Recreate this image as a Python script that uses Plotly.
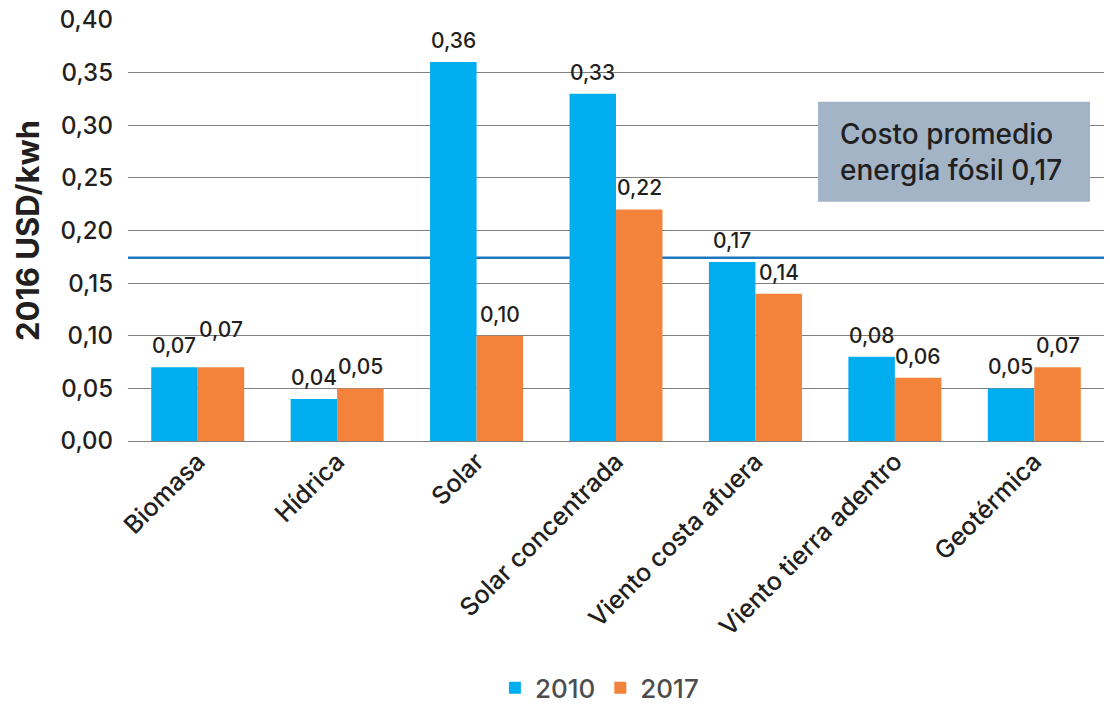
import plotly.graph_objects as go

# Costo nivelado de la electricidad por tecnología (USD 2016 por kWh)
categorias = ["Biomasa", "Hídrica", "Solar", "Solar concentrada",
              "Viento costa afuera", "Viento tierra adentro", "Geotérmica"]
costo_2010 = [0.07, 0.04, 0.36, 0.33, 0.17, 0.08, 0.05]
costo_2017 = [0.07, 0.05, 0.10, 0.22, 0.14, 0.06, 0.07]
promedio_fosil = 0.174
ticks_y = [0.00, 0.05, 0.10, 0.15, 0.20, 0.25, 0.30, 0.35, 0.40]

AZUL = "#00AEEF"
NARANJA = "#F3833B"
TEXTO = "#231F20"
FUENTE = "Inter, 'Open Sans', sans-serif"

fig = go.Figure()
fig.add_trace(go.Bar(name="2010", x=categorias, y=costo_2010,
                     marker=dict(color=AZUL, line=dict(width=0))))
fig.add_trace(go.Bar(name="2017", x=categorias, y=costo_2017,
                     marker=dict(color=NARANJA, line=dict(width=0))))

# Etiquetas de valor sobre cada barra
ancho_px = 23.3
def etiqueta(v):
    return f"{v:.2f}".replace(".", ",")

for i, cat in enumerate(categorias):
    for serie, desplaz in ((costo_2010, -ancho_px), (costo_2017, ancho_px)):
        v = serie[i]
        extra = 0
        # evitar que las dos etiquetas iguales de Biomasa se toquen
        if serie is costo_2017 and costo_2017[i] == costo_2010[i]:
            extra = 16
        fig.add_annotation(x=cat, y=v, text=etiqueta(v), showarrow=False,
                           xshift=desplaz, yshift=7 + extra, yanchor="bottom",
                           font=dict(family=FUENTE, size=21, color=TEXTO,
                                     weight=500))

# Línea del costo promedio de la energía fósil
fig.add_shape(type="line", xref="paper", x0=0, x1=1, y0=promedio_fosil,
              y1=promedio_fosil, line=dict(color="#1F77C0", width=2.5),
              layer="below")

# Recuadro explicativo
fig.add_shape(type="rect", xref="paper", x0=0.707, x1=0.9857,
              y0=0.2272, y1=0.3223, fillcolor="#A2B4C6",
              line=dict(width=0), layer="above")
fig.add_annotation(xref="paper", x=0.7275, y=0.2748, xanchor="left",
                   yanchor="middle", align="left", showarrow=False,
                   text="Costo promedio<br>energía fósil 0,17",
                   font=dict(family=FUENTE, size=28, color=TEXTO, weight=500))

fig.update_layout(
    width=1110, height=709,
    margin=dict(l=128, r=6, t=20, b=268),
    paper_bgcolor="white", plot_bgcolor="white",
    barmode="group", bargap=0.333, bargroupgap=0,
    separators=",.",
    font=dict(family=FUENTE, color=TEXTO),
    showlegend=True,
    legend=dict(orientation="h", xref="paper", x=0.483, xanchor="center",
                yref="container", y=0.03, yanchor="middle",
                font=dict(family=FUENTE, size=26, color="#4D4D4F", weight=500),
                itemwidth=30, traceorder="normal"),
    xaxis=dict(tickangle=-45,
               tickfont=dict(family=FUENTE, size=25, color=TEXTO, weight=500),
               showgrid=False, showline=False, ticks="", automargin=False),
    yaxis=dict(range=[0, 0.40], tickvals=ticks_y, tickformat=".2f",
               tickfont=dict(family=FUENTE, size=24, color=TEXTO, weight=500),
               showgrid=True, gridcolor="#808080", gridwidth=1.3,
               zeroline=True, zerolinecolor="#808080", zerolinewidth=1.3,
               ticks="", ticklabelstandoff=14, automargin=False,
               title=dict(text="<b>2016 USD/kwh</b>", standoff=10,
                          font=dict(family=FUENTE, size=31, color=TEXTO))),
)

fig.write_html("out.html")
